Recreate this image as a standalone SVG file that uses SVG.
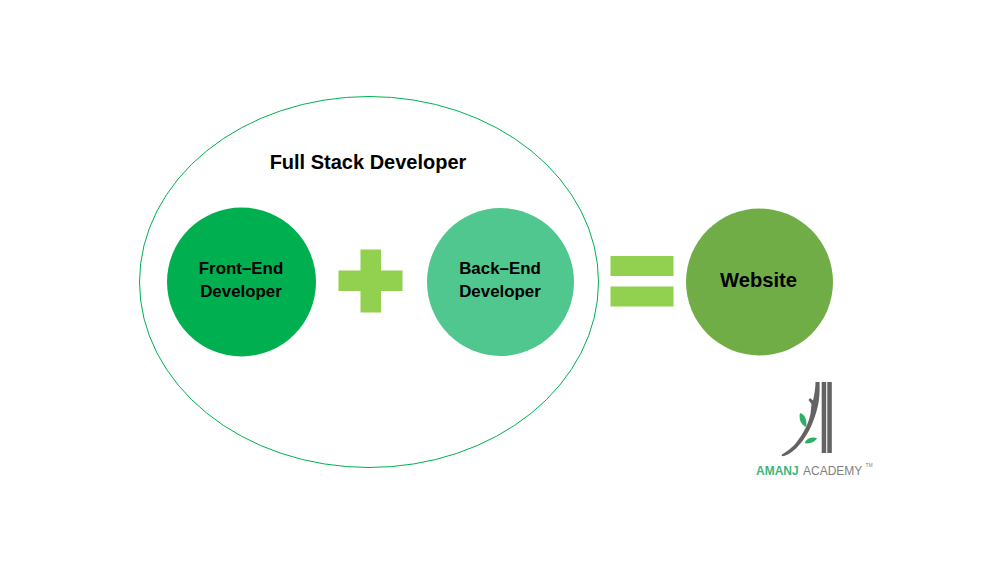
<svg xmlns="http://www.w3.org/2000/svg" width="1000" height="563" viewBox="0 0 1000 563">
<style>
text{font-family:"Liberation Sans",Arial,sans-serif;font-weight:bold;fill:#000;text-anchor:middle}
.l{font-size:16.900px}
.op{fill:#92d050}
.bar{fill:#636363}
.lf{fill:#2fae66}
</style>
<rect width="1000" height="563" fill="#fff"/>
<g id="full-stack">
<ellipse cx="369" cy="282" rx="229.500" ry="185.500" fill="#fff" stroke="#00b050" stroke-width="1"/>
<text x="368" y="169" font-size="20">Full Stack Developer</text>
</g>
<g id="front-end">
<circle cx="241.500" cy="282" r="74.500" fill="#00b050"/>
<text class="l" x="241" y="274">Front–End</text>
<text class="l" x="241" y="297">Developer</text>
</g>
<g id="plus"><path class="op" d="M360.500 249.500h20.500v21h21.500v20.500h-21.500v21.500h-20.500v-21.500h-22v-20.500h22z"/></g>
<g id="back-end">
<ellipse cx="500.500" cy="282" rx="73.500" ry="74" fill="#4fc78f"/>
<text class="l" x="500" y="274">Back–End</text>
<text class="l" x="500" y="297">Developer</text>
</g>
<g id="equals">
<rect class="op" x="610.500" y="256" width="63" height="20"/>
<rect class="op" x="610.500" y="286.500" width="63" height="20"/>
</g>
<g id="website">
<circle cx="759.500" cy="282" r="73.500" fill="#70ad47"/>
<text x="758.500" y="287" font-size="20.200">Website</text>
</g>
<g id="logo">
<rect class="bar" x="821.700" y="382" width="4.500" height="71"/>
<rect class="bar" x="827.300" y="382" width="4.500" height="71"/>
<path class="bar" d="M815.500 382H819.500C820 394 819 404 816 413C812 426 807 436 800 444C795 450 790 454 784 456C782 456.500 781 455.500 782 454.500C785 452.500 791 449 796 443C803 434 808 425 810.500 414L811.500 404L808.500 400L810 398L813 400.500C814.500 394 815.500 388 815.500 382Z"/>
<path class="lf" d="M800 413C805 414 807.500 421 806 427C801 425 798.500 419 800 413Z"/>
<path class="lf" d="M804.500 443C807 438 812 436.500 817 438C815 442 809 444.500 804.500 443Z"/>
<text x="756" y="475" font-size="12" style="text-anchor:start;font-weight:bold;fill:#3fb57a">AMANJ</text>
<text x="803" y="475" font-size="12" style="text-anchor:start;font-weight:normal;fill:#7f7f7f">ACADEMY</text>
<text x="865.500" y="467" font-size="5" style="text-anchor:start;font-weight:normal;fill:#7f7f7f">TM</text>
</g>
</svg>
